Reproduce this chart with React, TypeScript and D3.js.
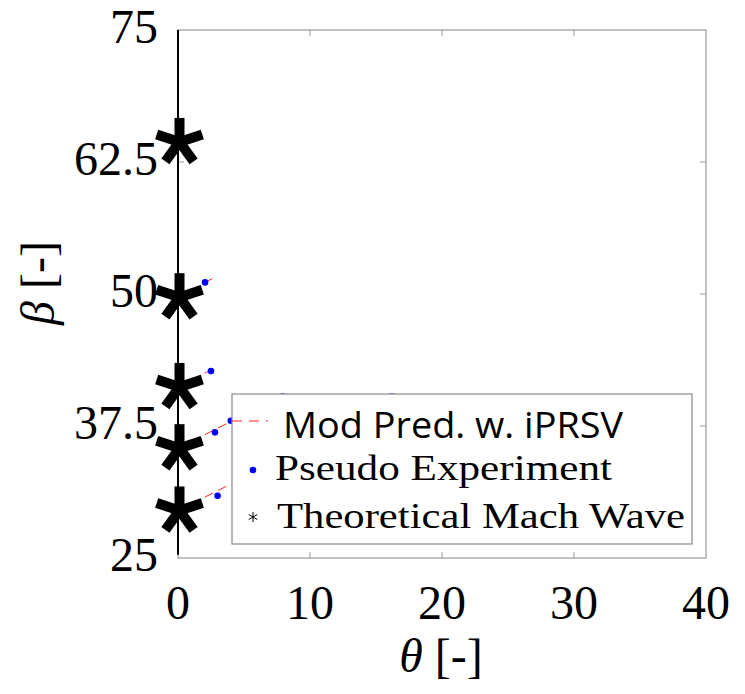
import React from "react";
import * as d3 from "d3";

const xTicks = [0, 10, 20, 30, 40];
const xTickLabels = ["0", "10", "20", "30", "40"];
const yTicks = [25, 37.5, 50, 62.5, 75];
const yTickLabels = ["25", "37.5", "50", "62.5", "75"];

// Theoretical Mach wave (stars)
const machTheta = [0, 0, 0, 0, 0];
const machBeta = [64.4, 49.7, 41.2, 35.4, 29.5];

// Pseudo experiment (blue dots)
const expTheta = [2.05, 2.5, 2.8, 4.0, 3.0, 7.95, 16.2];
const expBeta = [51.1, 42.7, 36.9, 38.0, 30.9, 40.3, 40.3];

// Model prediction (red dashed), one short curve per Mach wave
const predTheta = [
  [0, 2.8],
  [0, 2.8],
  [0, 7.3],
  [0, 12],
];
const predBeta = [
  [49.7, 51.6],
  [41.2, 43.0],
  [35.4, 40.0],
  [29.5, 37.0],
];

// vertical reference line at theta = 0
const refTheta = [0, 0];
const refBeta = [25.3, 75];

const legendLabels = ["Mod Pred. w. iPRSV", "Pseudo Experiment", "Theoretical Mach Wave"];

const W = 745;
const H = 694;
const L = 178, R = 706, T = 30, B = 558;

function Star({ cx, cy, r, w }: { cx: number; cy: number; r: number; w: number }) {
  const angles = [90, 18, 162, -54, -126];
  return (
    <g>
      {angles.map((a, i) => {
        const rad = (a * Math.PI) / 180;
        return (
          <line
            key={i}
            x1={cx}
            y1={cy}
            x2={cx + r * Math.cos(rad)}
            y2={cy - r * Math.sin(rad)}
            stroke="#000"
            strokeWidth={w}
            strokeLinecap="butt"
          />
        );
      })}
      <circle cx={cx} cy={cy} r={w * 0.55} fill="#000" />
    </g>
  );
}

function SmallStar({ cx, cy, r }: { cx: number; cy: number; r: number }) {
  const angles = [90, 30, 150, -30, -150, -90];
  return (
    <g>
      {angles.map((a, i) => {
        const rad = (a * Math.PI) / 180;
        return (
          <line key={i} x1={cx} y1={cy} x2={cx + r * Math.cos(rad)} y2={cy - r * Math.sin(rad)} stroke="#000" strokeWidth={1} />
        );
      })}
    </g>
  );
}

export default function App() {
  const x = d3.scaleLinear().domain([0, 40]).range([L, R]);
  const y = d3.scaleLinear().domain([25, 75]).range([B, T]);
  const line = d3
    .line<[number, number]>()
    .x((d) => x(d[0]))
    .y((d) => y(d[1]));

  const serif = "'Liberation Serif', 'DejaVu Serif', serif";

  return (
    <svg
      width={W}
      height={H}
      style={{ position: "absolute", left: 0, top: 0, background: "#fff" }}
      xmlns="http://www.w3.org/2000/svg"
    >
      <rect x={0} y={0} width={W} height={H} fill="#fff" />
      {/* axes box */}
      <rect x={L} y={T} width={R - L} height={B - T} fill="none" stroke="#999" strokeWidth={1.2} />
      {/* ticks */}
      {xTicks.slice(1, -1).map((t, i) => (
        <g key={"xt" + i}>
          <line x1={x(t)} x2={x(t)} y1={B} y2={B - 6} stroke="#999" strokeWidth={1} />
          <line x1={x(t)} x2={x(t)} y1={T} y2={T + 6} stroke="#999" strokeWidth={1} />
        </g>
      ))}
      {yTicks.slice(1, -1).map((t, i) => (
        <g key={"yt" + i}>
          <line x1={R} x2={R - 6} y1={y(t)} y2={y(t)} stroke="#999" strokeWidth={1} />
          <line x1={L} x2={L + 6} y1={y(t)} y2={y(t)} stroke="#999" strokeWidth={1} />
        </g>
      ))}
      {/* tick labels */}
      {xTicks.map((t, i) => (
        <text key={"xl" + i} x={x(t)} y={619} textAnchor="middle" fontFamily={serif} fontSize={48} fill="#000">
          {xTickLabels[i]}
        </text>
      ))}
      {yTicks.map((t, i) => (
        <text key={"yl" + i} x={158} y={y(t) + 13} textAnchor="end" fontFamily={serif} fontSize={48} fill="#000">
          {yTickLabels[i]}
        </text>
      ))}
      {/* axis labels */}
      <text x={441} y={672} textAnchor="middle" fontFamily={serif} fontSize={48} fill="#000">
        <tspan fontStyle="italic">θ</tspan>
        <tspan> [-]</tspan>
      </text>
      <text
        transform={`translate(54, 283) rotate(-90)`}
        textAnchor="middle"
        fontFamily={serif}
        fontSize={48}
        fill="#000"
      >
        <tspan fontStyle="italic">β</tspan>
        <tspan> [-]</tspan>
      </text>

      {/* vertical reference line */}
      <path d={line(refTheta.map((t, i) => [t, refBeta[i]]) as [number, number][]) || ""} stroke="#000" strokeWidth={2} fill="none" />

      {/* prediction curves */}
      {predTheta.map((ts, k) => (
        <path
          key={"p" + k}
          d={line(ts.map((t, i) => [t, predBeta[k][i]]) as [number, number][]) || ""}
          stroke="#ff2020"
          strokeWidth={1}
          strokeDasharray="9,6"
          fill="none"
        />
      ))}

      {/* experiment dots */}
      {expTheta.map((t, i) => (
        <circle key={"e" + i} cx={x(t)} cy={y(expBeta[i])} r={3.3} fill="#0000ff" />
      ))}

      {/* mach wave stars */}
      {machTheta.map((t, i) => (
        <Star key={"s" + i} cx={x(t) + 1.5} cy={y(machBeta[i])} r={24} w={10} />
      ))}

      {/* legend */}
      <g>
        <rect x={232} y={394} width={460} height={150} fill="#fff" stroke="#888" strokeWidth={1.2} />
        <line x1={232} x2={268} y1={421} y2={421} stroke="#ff2020" strokeWidth={1} strokeDasharray="10,7" />
        <text x={283} y={438} fontFamily="'Open Sans', 'Noto Sans', sans-serif" fontSize={37} textLength={340} lengthAdjust="spacingAndGlyphs" fill="#000">
          {legendLabels[0]}
        </text>
        <circle cx={253} cy={470} r={3.3} fill="#0000ff" />
        <text x={275} y={480} fontFamily={serif} fontSize={36} textLength={337} lengthAdjust="spacingAndGlyphs" fill="#000">
          {legendLabels[1]}
        </text>
        <SmallStar cx={253} cy={517} r={5} />
        <text x={277} y={528} fontFamily={serif} fontSize={36} textLength={408} lengthAdjust="spacingAndGlyphs" fill="#000">
          {legendLabels[2]}
        </text>
      </g>
    </svg>
  );
}
